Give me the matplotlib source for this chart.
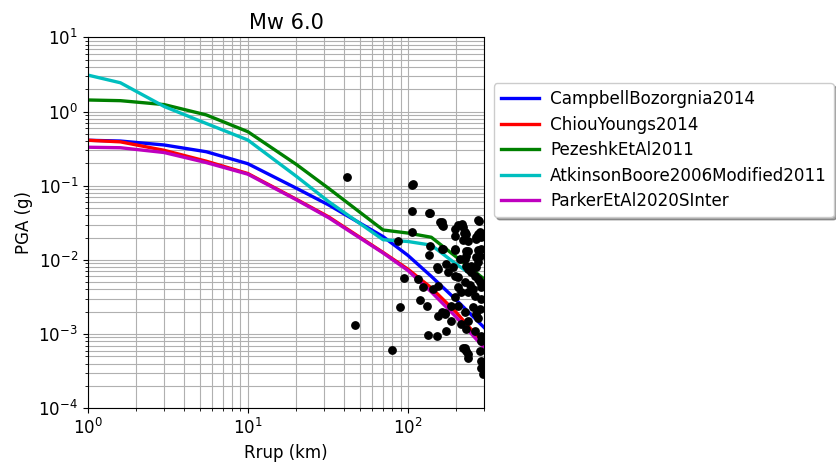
import numpy as np
import matplotlib
matplotlib.use("Agg")
import matplotlib.pyplot as plt

# distances (km) where the GMPE curves were read
rrup = [1, 1.6, 3, 5.5, 10, 20, 32, 70, 100, 140, 200, 300]

# median PGA (g) per model
campbell = [0.41, 0.40, 0.354, 0.287, 0.198, 0.093, 0.055, 0.0206, 0.0115, 0.0060, 0.0029, 0.00122]
chiou = [0.41, 0.39, 0.30, 0.214, 0.146, 0.066, 0.038, 0.0126, 0.0075, 0.0042, 0.00197, 0.00073]
pezeshk = [1.43, 1.40, 1.24, 0.90, 0.535, 0.195, 0.092, 0.0253, 0.023, 0.0202, 0.011, 0.0055]
atkinson = [3.10, 2.44, 1.17, 0.69, 0.413, 0.135, 0.061, 0.0187, 0.0177, 0.0158, 0.0088, 0.0048]
parker = [0.33, 0.325, 0.28, 0.205, 0.143, 0.065, 0.037, 0.0124, 0.0072, 0.0037, 0.0017, 0.00065]

models = ["CampbellBozorgnia2014", "ChiouYoungs2014", "PezeshkEtAl2011",
          "AtkinsonBoore2006Modified2011", "ParkerEtAl2020SInter"]
colors = ["b", "r", "g", "c", "m"]

# recorded data
obs_rrup = [41.5, 107.5, 105.9, 105.9, 137.1, 134.5, 162.2, 164.5, 276.9, 217.8,
            196.2, 105.9, 86.5, 223.4, 221.1, 268.0, 280.9, 137.1, 164.5, 135.8,
            196.2, 232.1, 274.2, 152.3, 174.2, 191.6, 196.2, 232.1, 268.0, 94.4,
            115.9, 124.5, 143.8, 89.1, 118.9, 130.8, 46.7, 79.4, 154.5, 170.2,
            174.2, 133.8, 151.0, 221.1, 232.1, 237.6, 287.7, 158.2, 162.2, 205.7,
            221.1, 274.2, 226.6, 232.1, 274.2, 287.7, 196.2, 237.6, 268.0, 162.2,
            196.2, 237.6, 232.1, 268.0, 280.9, 210.9, 287.7, 226.6, 249.5, 237.6,
            274.2, 154.5, 178.3, 205.7, 226.6, 274.2, 287.7, 154.5, 205.7, 237.6,
            196.2, 261.6, 287.7, 187.2, 205.7, 255.4, 280.9, 162.2, 226.6, 268.0,
            170.2, 187.2, 216.1, 232.1, 261.6, 237.6, 274.2, 287.7, 287.7, 226.6,
            237.6, 280.9, 287.7, 294.6, 249.5, 280.9, 261.6, 244.0, 255.4, 216.0]
obs_pga = [0.133, 0.104, 0.101, 0.0454, 0.0432, 0.0423, 0.0323, 0.0282, 0.0332, 0.0307,
           0.0259, 0.0241, 0.0182, 0.0232, 0.0187, 0.0202, 0.0236, 0.0156, 0.0139, 0.0118,
           0.0138, 0.0133, 0.0138, 0.00794, 0.00883, 0.00794, 0.00614, 0.00837, 0.00794, 0.00565,
           0.00555, 0.00426, 0.00406, 0.00234, 0.00288, 0.00241, 0.00132, 0.000607, 0.00175, 0.00192,
           0.00111, 0.000975, 0.000938, 0.000659, 0.000595, 0.000474, 0.000354, 0.0323, 0.0291, 0.0291,
           0.0276, 0.0340, 0.0236, 0.0224, 0.0224, 0.0202, 0.0213, 0.0182, 0.0192, 0.0141,
           0.0141, 0.0133, 0.0114, 0.0109, 0.0114, 0.0103, 0.0141, 0.0103, 0.00837, 0.00756,
           0.00929, 0.00756, 0.00681, 0.00581, 0.00499, 0.00555, 0.00426, 0.00450, 0.00426, 0.00365,
           0.00313, 0.00329, 0.00297, 0.00241, 0.00241, 0.00229, 0.00218, 0.00196, 0.00196, 0.00187,
           0.00187, 0.00151, 0.00137, 0.00117, 0.00111, 0.00151, 0.00167, 0.000948, 0.000812, 0.000659,
           0.000536, 0.000595, 0.000437, 0.000288, 0.00681, 0.00499, 0.00614, 0.00460, 0.00405, 0.00370]

fig = plt.figure(figsize=(8.37, 4.7), dpi=100)
ax = fig.add_axes([0.1048, 0.1313, 0.4738, 0.7893])

for vals, name, c in zip([campbell, chiou, pezeshk, atkinson, parker], models, colors):
    ax.plot(rrup, vals, color=c, lw=2.4, label=name)

ax.plot(obs_rrup, obs_pga, "o", color="k", markersize=5.3, zorder=3)

ax.set_xscale("log")
ax.set_yscale("log")
ax.set_xlim(1, 300)
ax.set_ylim(1e-4, 10)
ax.grid(True, which="both", color="#b0b0b0", lw=0.8)
ax.tick_params(labelsize=12)
ax.set_xlabel("Rrup (km)", fontsize=12)
ax.set_ylabel("PGA (g)", fontsize=12)
ax.set_title("Mw 6.0", fontsize=15)
ax.legend(loc="upper left", bbox_to_anchor=(1.0245, 0.876), borderaxespad=0,
          fontsize=12.1, shadow=True, handlelength=2.25, handletextpad=0.7,
          labelspacing=0.45)

fig.savefig("out.png", dpi=100)
